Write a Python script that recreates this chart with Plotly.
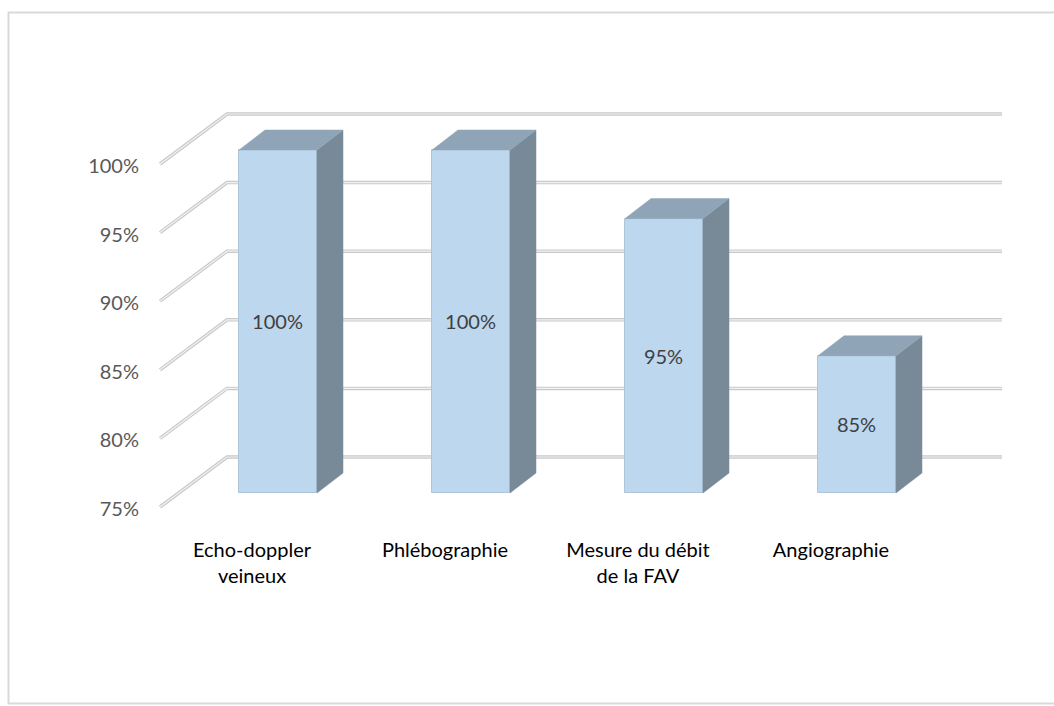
import plotly.graph_objects as go

# --- data -------------------------------------------------------------
categories = ["Echo-doppler<br>veineux", "Phlébographie",
              "Mesure du débit<br>de la FAV", "Angiographie"]
values = [100, 100, 95, 85]
tick_values = [75, 80, 85, 90, 95, 100]
tick_labels = ["75%", "80%", "85%", "90%", "95%", "100%"]

# --- geometry of the pseudo-3D view (axis units) ------------------------
W, H = 1054, 706
L, R, T, B = 145, 44, 80, 186          # plot-area margins in px
PX_X = 193.0                            # px per category
PX_Y = 343.0 / 25                       # px per percentage point
X0 = -(278 - L) / PX_X
X1 = X0 + (W - L - R) / PX_X
Y0 = 75 - ((H - B) - 493) / PX_Y
Y1 = Y0 + (H - T - B) / PX_Y

BAR_W = 78 / PX_X                       # bar front width
DEPTH_X = 26 / PX_X                     # bar depth (receding right)
DEPTH_Y = 20 / PX_Y                     # bar depth (receding up)
BASE = tick_values[0]

WALL_FRONT_X = (160 - 278) / PX_X
WALL_BACK_X = (227 - 278) / PX_X
WALL_END_X = (1002 - 278) / PX_X
WALL_FRONT_DY = -14 / PX_Y
WALL_BACK_DY = 36 / PX_Y

FRONT = "#BDD7EE"
SIDE = "#788A98"
TOP = "#8FA5B7"

xs = list(range(len(values)))
fig = go.Figure()

# front faces of the columns
fig.add_trace(go.Bar(
    x=xs, y=[v - BASE for v in values], base=BASE, width=BAR_W,
    marker=dict(color=FRONT, line=dict(color="#AFC5D8", width=1)),
    text=[f"{v}%" for v in values], textposition="inside",
    insidetextanchor="middle", textangle=0, constraintext="none",
    textfont=dict(family="Lato", size=20, color="#404040"),
    hoverinfo="skip", showlegend=False, cliponaxis=False,
))

# side and top faces
for x, v in zip(xs, values):
    xr, xl = x + BAR_W / 2, x - BAR_W / 2
    fig.add_trace(go.Scatter(
        x=[xr, xr, xr + DEPTH_X, xr + DEPTH_X, xr],
        y=[BASE, v, v + DEPTH_Y, BASE + DEPTH_Y, BASE],
        fill="toself", fillcolor=SIDE, mode="lines",
        line=dict(color=SIDE, width=0.5), hoverinfo="skip", showlegend=False,
    ))
    fig.add_trace(go.Scatter(
        x=[xl, xr, xr + DEPTH_X, xl + DEPTH_X, xl],
        y=[v, v, v + DEPTH_Y, v + DEPTH_Y, v],
        fill="toself", fillcolor=TOP, mode="lines",
        line=dict(color=TOP, width=0.5), hoverinfo="skip", showlegend=False,
    ))

# wall / floor gridlines (embossed double stroke), below the columns
shapes = []
for v in tick_values:
    path = (f"M {WALL_FRONT_X},{v + WALL_FRONT_DY} "
            f"L {WALL_BACK_X},{v + WALL_BACK_DY} "
            f"L {WALL_END_X},{v + WALL_BACK_DY}")
    shapes.append(dict(type="path", path=path, xref="x", yref="y",
                       layer="below", line=dict(color="#C9C9C9", width=3.5)))
    shapes.append(dict(type="path", path=path, xref="x", yref="y",
                       layer="below", line=dict(color="#F2F2F2", width=1.2)))

# chart frame
pw, ph = W - L - R, H - T - B
shapes.append(dict(type="rect", xref="paper", yref="paper",
                   x0=(8.5 - L) / pw, x1=(1070 - L) / pw,
                   y0=(H - B - 703.5) / ph, y1=(H - B - 12.5) / ph,
                   line=dict(color="#D9D9D9", width=2), layer="below"))

fig.update_layout(
    width=W, height=H,
    margin=dict(l=L, r=R, t=T, b=B),
    paper_bgcolor="white", plot_bgcolor="white",
    bargap=0, showlegend=False, shapes=shapes,
    xaxis=dict(range=[X0, X1], showgrid=False, zeroline=False,
               showline=False, ticks="",
               tickvals=[x - DEPTH_X for x in xs], ticktext=categories,
               tickfont=dict(family="Lato", size=20, color="#000000"),
               ticklabelstandoff=16, fixedrange=True),
    yaxis=dict(range=[Y0, Y1], showgrid=False, zeroline=False,
               showline=False, ticks="",
               tickvals=tick_values, ticktext=tick_labels,
               tickfont=dict(family="Lato", size=20, color="#595959"),
               ticklabelshift=16, ticklabelstandoff=5, fixedrange=True),
)

fig.write_html("out.html", config={"displayModeBar": False})
